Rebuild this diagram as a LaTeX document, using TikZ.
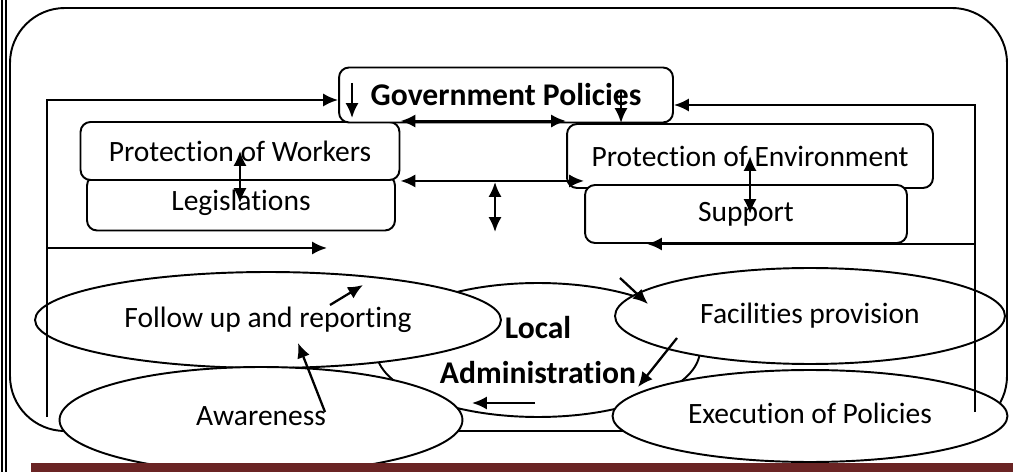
\documentclass[tikz,border=0pt]{standalone}
\usepackage{fontspec}
\setmainfont{Carlito}[Ligatures={NoCommon}]
\usetikzlibrary{arrows.meta,shapes.geometric}
\definecolor{barred}{RGB}{106,36,36}
\newcommand{\txtfont}{\fontsize{16.8}{20}\selectfont}
\newcommand{\hdfont}{\bfseries\fontsize{18}{25.5}\selectfont}
\tikzset{
  box/.style={draw, rounded corners=0.2cm, fill=white, line width=1.1pt, font=\txtfont},
  oval/.style={draw, ellipse, fill=white, inner sep=0pt, line width=1.1pt, font=\txtfont},
  flow/.style={line width=1.3pt, >={Latex[length=8.5pt,width=7.5pt]}}
}

\begin{document}
\begin{tikzpicture}[x=0.02cm,y=-0.02cm]
        \useasboundingbox (0,0) rectangle (1013,472);
        \draw[line width=0.6pt] (2,0) -- (2,472) (6,0) -- (6,472);
        \draw[line width=1.1pt, rounded corners=1.1cm] (10,8) rectangle (1007,431);

        \node[oval, minimum width=6.48cm, minimum height=2.68cm, font=\hdfont, align=center] (Loca) at (538,350) {Local\\Administration};
        \node[oval, minimum width=9.32cm, minimum height=1.92cm] (Foll) at (268,320) {\raisebox{2pt}{Follow up and reporting}};
        \node[oval, minimum width=8.06cm, minimum height=2.12cm] (Awar) at (261,420) {\raisebox{5pt}{Awareness}};
        \node[oval, minimum width=7.8cm, minimum height=1.92cm] (Faci) at (810,316) {\raisebox{3pt}{Facilities provision}};
        \node[oval, minimum width=7.9cm, minimum height=1.84cm] (Exec) at (810,416) {\raisebox{3pt}{Execution of Policies}};
        \fill[barred] (31,463) rectangle (1013,472);

        \node[box, minimum width=6.16cm, minimum height=1.1cm] (Legi) at (241,203) {Legislations};
        \node[box, minimum width=6.38cm, minimum height=1.16cm] (Work) at (240,151) {Protection of Workers};
        \node[box, minimum width=7.32cm, minimum height=1.28cm] (Envi) at (750,156) {Protection of Environment};
        \node[box, minimum width=6.44cm, minimum height=1.16cm] (Supp) at (746,214) {Support};
        \node[box, font=\hdfont, minimum width=6.68cm, minimum height=1.1cm] (Gov) at (506,95) {\raisebox{-3pt}{Government Policies}\hspace{0.5cm}};

        \coordinate (LT) at (47,100); \coordinate (LB) at (47,417);
        \coordinate (LM) at (47,248); \coordinate (LE) at (327,248);
        \coordinate (RT) at (975,105); \coordinate (RB) at (975,412);
        \coordinate (RM) at (975,244); \coordinate (RE) at (647,244);
        \coordinate (G1a) at (352,83); \coordinate (G1b) at (352,118);
        \coordinate (G2a) at (621,90); \coordinate (G2b) at (621,123);
        \coordinate (Ma) at (495,182); \coordinate (Mb) at (495,232);

        \draw[flow,->] (LB) -- (LT) -- (LT -| Gov.west);
        \draw[flow,->] (LM) -- (LE);
        \draw[flow,->] (RB) -- (RT) -- (RT -| Gov.east);
        \draw[flow,->] (RM) -- (RE);
        \draw[flow,->] (G1a) -- (G1b);
        \draw[flow,->] (G2a) -- (G2b);
        \draw[flow,<->] (Work.north east) -- (Work.north east -| Envi.west);
        \draw[flow,<->] (Work.south east) -- (Work.south east -| Supp.west);
        \draw[flow,<->] (Ma) -- (Mb);
        \draw[flow,<->] (Work.center) -- (Work.center |- Legi.center);
        \draw[flow,<->] (Envi.center) -- (Envi.center |- Supp.center);

        \coordinate (F1) at (330,305); \coordinate (F2) at (363,285);
        \coordinate (A1) at (325,412); \coordinate (A2) at (298,343);
        \coordinate (P1) at (620,278); \coordinate (P2) at (648,304);
        \coordinate (P3) at (677,338); \coordinate (P4) at (638,387);
        \coordinate (L1) at (535,403); \coordinate (L2) at (472,403);
        \draw[flow,->] (F1) -- (F2);
        \draw[flow,->] (A1) -- (A2);
        \draw[flow,->] (P1) -- (P2);
        \draw[flow,->] (P3) -- (P4);
        \draw[flow,->] (L1) -- (L2);
\end{tikzpicture}
\end{document}
